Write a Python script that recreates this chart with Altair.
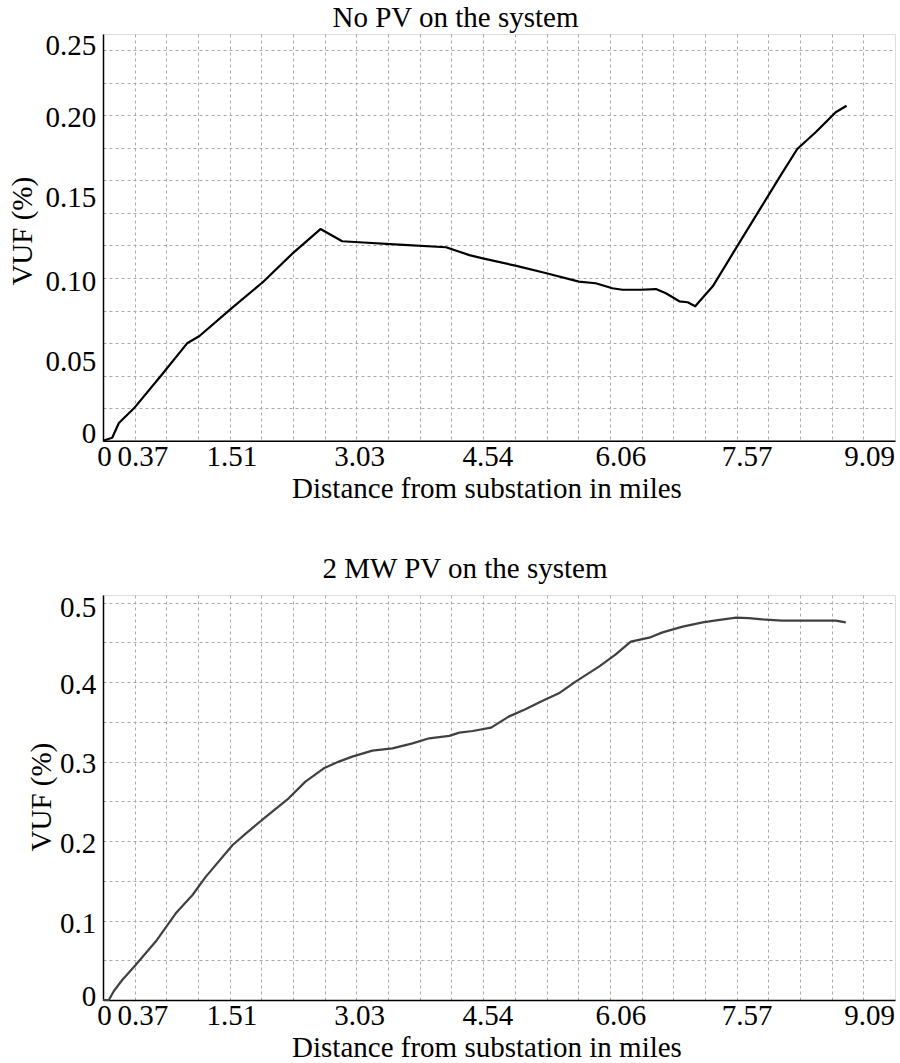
import altair as alt
import pandas as pd

# ---------------- data ----------------
nopv_miles = [0, 0.11, 0.19, 0.37, 0.71, 1.01, 1.15, 1.55, 1.91, 2.26, 2.60, 2.86,
              3.06, 3.54, 4.10, 4.38, 4.54, 4.93, 5.29, 5.69, 5.89, 6.09, 6.21,
              6.43, 6.61, 6.73, 6.89, 6.99, 7.08, 7.29, 7.57, 7.88, 8.10, 8.30,
              8.52, 8.76, 8.89]
nopv_vuf = [0, 0.0018, 0.0109, 0.0199, 0.0410, 0.0601, 0.0642, 0.0820, 0.0974,
            0.1148, 0.1301, 0.1226, 0.1220, 0.1205, 0.1189, 0.1141, 0.1121,
            0.1076, 0.1031, 0.0978, 0.0968, 0.0937, 0.0928, 0.0928, 0.0932,
            0.0906, 0.0857, 0.0851, 0.0826, 0.0949, 0.1185, 0.1445, 0.1629,
            0.1793, 0.1896, 0.2019, 0.2059]

pv_miles = [0, 0.07, 0.13, 0.23, 0.39, 0.63, 0.87, 1.07, 1.23, 1.55, 1.71, 1.95,
            2.22, 2.42, 2.64, 2.82, 2.98, 3.22, 3.46, 3.70, 3.90, 4.14, 4.26,
            4.42, 4.64, 4.85, 5.05, 5.25, 5.45, 5.65, 5.93, 6.13, 6.31, 6.53,
            6.69, 6.93, 7.17, 7.33, 7.57, 7.72, 7.88, 8.12, 8.76, 8.88]
pv_vuf = [0, 0, 0.0113, 0.0252, 0.0440, 0.0735, 0.1091, 0.1321, 0.1552, 0.1950,
          0.2097, 0.2307, 0.2537, 0.2747, 0.2915, 0.2999, 0.3062, 0.3137, 0.3166,
          0.3229, 0.3292, 0.3323, 0.3364, 0.3384, 0.3426, 0.3565, 0.3657, 0.3761,
          0.3858, 0.4005, 0.4194, 0.4348, 0.4508, 0.4558, 0.4625, 0.4697, 0.4751,
          0.4776, 0.4810, 0.4805, 0.4789, 0.4772, 0.4772, 0.4751]

# axis / grid definitions
x_step = 0.37875
x_grid = [round(x_step * k, 5) for k in range(25)]
x_max = round(x_step * 25, 5)
x_label_index = [0, 1, 4, 8, 12, 16, 20, 24]
x_label_text = ["0", "0.37", "1.51", "3.03", "4.54", "6.06", "7.57", "9.09"]
x_label_shift = [1, 7.6, 1.6, 2.6, 4.1, 10.6, 9.9, 5.7]

top_grid = [0, 0.02, 0.04, 0.06, 0.08, 0.1, 0.12, 0.14, 0.16, 0.18, 0.2, 0.22, 0.24]
top_label_vals = [0, 0.05, 0.1, 0.15, 0.2, 0.25]
top_label_text = ["0", "0.05", "0.10", "0.15", "0.20", "0.25"]
top_label_shift = [-7.6, 2.4, 3.8, 0.9, 2.0, 11.1]
top_ymax = 0.25

bot_grid = [0, 0.05, 0.1, 0.15, 0.2, 0.25, 0.3, 0.35, 0.4, 0.45, 0.5]
bot_label_vals = [0, 0.1, 0.2, 0.3, 0.4, 0.5]
bot_label_text = ["0", "0.1", "0.2", "0.3", "0.4", "0.5"]
bot_label_shift = [-3.9, 2.5, 2.0, 2.0, 2.0, 5.1]
bot_ymax = 0.5095

FONT = "Liberation Serif"
FS = 29
GRID_COLOR = "#a9a9a9"


def label_expr(vals, texts):
    expr = "''"
    for v, t in reversed(list(zip(vals, texts))):
        expr = f"datum.value == {v} ? '{t}' : ({expr})"
    return expr


def offset_cond(vals, shifts):
    return {"condition": [{"test": f"datum.value == {v}", "value": s}
                          for v, s in zip(vals, shifts)], "value": 0}


x_label_vals = [x_grid[i] for i in x_label_index]


def x_axis():
    return alt.Axis(
        values=x_grid,
        labelExpr=label_expr(x_label_vals, x_label_text),
        labelOffset=offset_cond(x_label_vals, x_label_shift),
        labelFlush=False, labelOverlap=False, labelPadding=1.5,
        labelFont=FONT, labelFontSize=FS, labelColor="black",
        ticks=False, tickSize=0,
        grid=True, gridColor=GRID_COLOR, gridDash=[3, 3], gridWidth=1,
        domainColor="black", domainWidth=1.5,
        title="Distance from substation in miles",
        titleFont=FONT, titleFontSize=FS, titleFontWeight="normal", titleColor="black",
        titleX=383.5, titleY=56.3, titleBaseline="alphabetic",
    )


def y_axis(grid, label_vals, label_text, shifts, title_x, title_y):
    vals = sorted(set(grid) | set(label_vals))
    label_only = [v for v in label_vals if v not in grid]
    grid_op = {"condition": {"test": f"indexof({label_only}, datum.value) >= 0", "value": 0},
               "value": 1} if label_only else 1
    return alt.Axis(
        values=vals,
        labelExpr=label_expr(label_vals, label_text),
        labelOffset=offset_cond(label_vals, shifts),
        labelFlush=False, labelOverlap=False, labelPadding=7.3,
        labelFont=FONT, labelFontSize=FS, labelColor="black",
        ticks=False, tickSize=0,
        grid=True, gridColor=GRID_COLOR, gridDash=[3, 3], gridWidth=1,
        gridOpacity=grid_op,
        domainColor="black", domainWidth=1.5,
        title="VUF (%)",
        titleFont=FONT, titleFontSize=FS, titleFontWeight="normal", titleColor="black",
        titleX=title_x, titleY=title_y, titleBaseline="alphabetic",
    )


df_top = pd.DataFrame({"miles": nopv_miles, "vuf": nopv_vuf})
df_bot = pd.DataFrame({"miles": pv_miles, "vuf": pv_vuf})

top = alt.Chart(df_top).mark_line(color="#000000", strokeWidth=2.2, strokeJoin="round").encode(
    x=alt.X("miles:Q", scale=alt.Scale(domain=[0, x_max], nice=False, zero=False), axis=x_axis()),
    y=alt.Y("vuf:Q", scale=alt.Scale(domain=[0, top_ymax], nice=False),
            axis=y_axis(top_grid, top_label_vals, top_label_text, top_label_shift, -71.5, 196.7)),
).properties(
    width=792, height=406.7,
    title=alt.TitleParams("No PV on the system", font=FONT, fontSize=FS, fontWeight="normal",
                          color="black", frame="group", anchor="middle",
                          offset=-1.5, dx=-43.5),
)

bottom = alt.Chart(df_bot).mark_line(color="#404040", strokeWidth=2.2, strokeJoin="round").encode(
    x=alt.X("miles:Q", scale=alt.Scale(domain=[0, x_max], nice=False, zero=False), axis=x_axis()),
    y=alt.Y("vuf:Q", scale=alt.Scale(domain=[0, bot_ymax], nice=False),
            axis=y_axis(bot_grid, bot_label_vals, bot_label_text, bot_label_shift, -53, 201.6)),
).properties(
    width=792, height=405,
    title=alt.TitleParams("2 MW PV on the system", font=FONT, fontSize=FS, fontWeight="normal",
                          color="black", frame="group", anchor="middle",
                          offset=10, dx=-34),
)

chart = alt.vconcat(top, bottom, spacing=50).configure_view(
    stroke="#333333", strokeWidth=1.5
).configure(
    padding={"left": 8, "top": 3, "right": 3, "bottom": 0},
    background="white",
)

chart.save("out.html", embed_options={"renderer": "svg", "actions": False})
